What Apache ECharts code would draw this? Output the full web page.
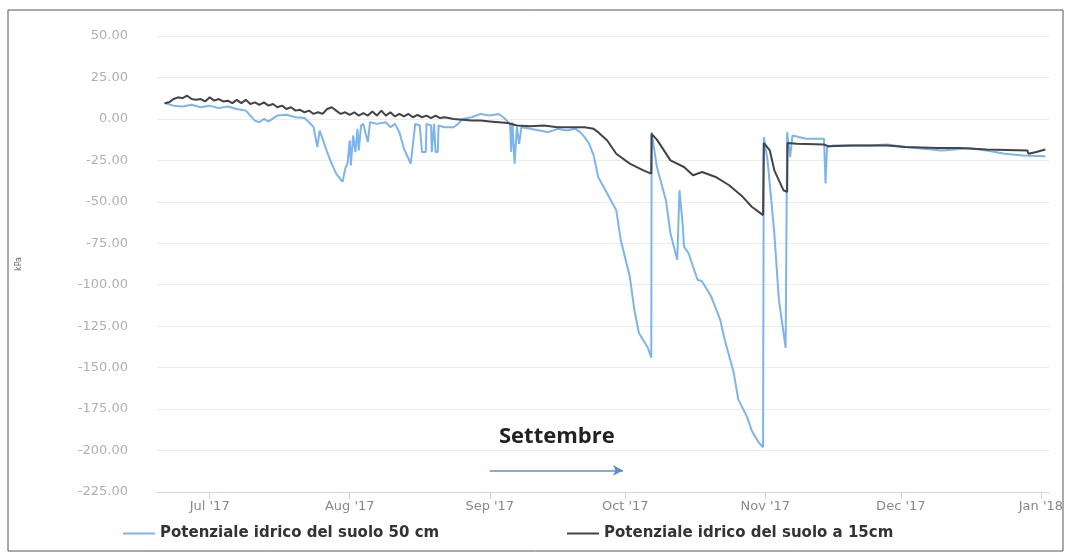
<!DOCTYPE html>
<html>
<head>
<meta charset="utf-8">
<title>Potenziale idrico del suolo</title>
<script src="https://cdn.jsdelivr.net/npm/echarts@6/dist/echarts.min.js"></script>
<style>
  html, body { margin: 0; padding: 0; background: #fff; }
  #chart { width: 1066px; height: 553px; }
</style>
</head>
<body>
<div id="chart"></div>
<script>
// nomi delle serie
let seriesNames = ["Potenziale idrico del suolo 50 cm", "Potenziale idrico del suolo a 15cm"];
let monthNames = ["Jan", "Feb", "Mar", "Apr", "May", "Jun", "Jul", "Aug", "Sep", "Oct", "Nov", "Dec"];

// 50 cm (blu)
let blueTimes = [
  "2017-06-21", "2017-06-23", "2017-06-25", "2017-06-27", "2017-06-29", "2017-07-01", "2017-07-03",
  "2017-07-05", "2017-07-07", "2017-07-09", "2017-07-10", "2017-07-11", "2017-07-12", "2017-07-13",
  "2017-07-14", "2017-07-16", "2017-07-18", "2017-07-20", "2017-07-22", "2017-07-23", "2017-07-24 00:00",
  "2017-07-24 20:00", "2017-07-25 08:00", "2017-07-26", "2017-07-27", "2017-07-28", "2017-07-29",
  "2017-07-30 10:00", "2017-07-31 00:00", "2017-07-31 12:00", "2017-08-01 00:00", "2017-08-01 06:00",
  "2017-08-01 18:00", "2017-08-02 06:00", "2017-08-02 17:00", "2017-08-03 00:00", "2017-08-03 12:00",
  "2017-08-04", "2017-08-05 00:00", "2017-08-05 12:00", "2017-08-07", "2017-08-09", "2017-08-10",
  "2017-08-11", "2017-08-12", "2017-08-13", "2017-08-14 12:00", "2017-08-15 00:00", "2017-08-15 12:00",
  "2017-08-16 12:00", "2017-08-17 00:00", "2017-08-17 20:00", "2017-08-18 00:00", "2017-08-19 00:00",
  "2017-08-19 04:00", "2017-08-19 12:00", "2017-08-19 16:00", "2017-08-20 00:00", "2017-08-20 12:00",
  "2017-08-20 16:00", "2017-08-22", "2017-08-24", "2017-08-25", "2017-08-26", "2017-08-28", "2017-08-30",
  "2017-09-01", "2017-09-03", "2017-09-04", "2017-09-05 12:00", "2017-09-05 18:00", "2017-09-06 00:00",
  "2017-09-06 12:00", "2017-09-07 00:00", "2017-09-07 12:00", "2017-09-08", "2017-09-10", "2017-09-12",
  "2017-09-14", "2017-09-16", "2017-09-18", "2017-09-20", "2017-09-21", "2017-09-22", "2017-09-23",
  "2017-09-24", "2017-09-25", "2017-09-27", "2017-09-29", "2017-09-30", "2017-10-02", "2017-10-03",
  "2017-10-04", "2017-10-06 00:00", "2017-10-06 18:00", "2017-10-06 20:00", "2017-10-08", "2017-10-10",
  "2017-10-11", "2017-10-12 12:00", "2017-10-13 00:00", "2017-10-13 18:00", "2017-10-14", "2017-10-15",
  "2017-10-17", "2017-10-18", "2017-10-20", "2017-10-22", "2017-10-23", "2017-10-25", "2017-10-26",
  "2017-10-28", "2017-10-29", "2017-10-30 12:00", "2017-10-31 12:00", "2017-10-31 16:00", "2017-11-01 12:00",
  "2017-11-03", "2017-11-04", "2017-11-05 12:00", "2017-11-05 20:00", "2017-11-06 00:00", "2017-11-06 12:00",
  "2017-11-07", "2017-11-10", "2017-11-14 00:00", "2017-11-14 08:00", "2017-11-14 16:00", "2017-11-16",
  "2017-11-20", "2017-11-24", "2017-11-28", "2017-12-02", "2017-12-06", "2017-12-10", "2017-12-13",
  "2017-12-16", "2017-12-20", "2017-12-24", "2017-12-28", "2018-01-02"
];
let blueValues = [
  9.5, 8, 7.5, 8.5, 7, 8, 6.5,
  7.5, 6, 5, 2, -1, -2, 0,
  -1.5, 2, 2.5, 1, 0.5, -2, -5,
  -17, -7, -12, -20, -27, -33,
  -38, -30, -27, -13, -28,
  -10, -20, -6, -19, -4,
  -3, -14, -2, -3, -2, -5,
  -3, -8, -18, -27, -15, -3,
  -4, -20, -20, -3, -4,
  -20, -20, -3, -20, -20,
  -4, -5, -5, -3, 0, 1, 3,
  2, 3, 1, -3, -20, -2,
  -27, -5, -15, -5, -6, -7,
  -8, -6, -7, -6, -8, -11, -15,
  -22, -35, -45, -55, -73, -95, -115,
  -129, -138, -144, -8, -29, -49,
  -69, -85, -43, -65, -77, -81,
  -97, -98, -107, -121, -133, -153, -169,
  -180, -188, -195, -198, -11, -25,
  -69, -109, -138, -8, -12, -23,
  -10, -12, -12, -39, -17, -16,
  -16, -16, -15.5, -17, -18, -19, -18.5,
  -17.5, -19, -21, -22, -22.5
];

// 15 cm (nero)
let darkTimes = [
  "2017-06-21", "2017-06-22", "2017-06-23", "2017-06-24", "2017-06-25", "2017-06-26", "2017-06-27",
  "2017-06-28", "2017-06-29", "2017-06-30", "2017-07-01", "2017-07-02", "2017-07-03", "2017-07-04",
  "2017-07-05", "2017-07-06", "2017-07-07", "2017-07-08", "2017-07-09", "2017-07-10", "2017-07-11",
  "2017-07-12", "2017-07-13", "2017-07-14", "2017-07-15", "2017-07-16", "2017-07-17", "2017-07-18",
  "2017-07-19", "2017-07-20", "2017-07-21", "2017-07-22", "2017-07-23", "2017-07-24", "2017-07-25",
  "2017-07-26", "2017-07-27", "2017-07-28", "2017-07-29", "2017-07-30", "2017-07-31", "2017-08-01",
  "2017-08-02", "2017-08-03", "2017-08-04", "2017-08-05", "2017-08-06", "2017-08-07", "2017-08-08",
  "2017-08-09", "2017-08-10", "2017-08-11", "2017-08-12", "2017-08-13", "2017-08-14", "2017-08-15",
  "2017-08-16", "2017-08-17", "2017-08-18", "2017-08-19", "2017-08-20", "2017-08-21", "2017-08-22",
  "2017-08-24", "2017-08-26", "2017-08-28", "2017-08-30", "2017-09-01", "2017-09-03", "2017-09-05",
  "2017-09-07", "2017-09-10", "2017-09-13", "2017-09-16", "2017-09-19", "2017-09-22", "2017-09-24",
  "2017-09-25", "2017-09-27", "2017-09-29", "2017-10-02", "2017-10-05", "2017-10-06 18:00",
  "2017-10-06 20:00", "2017-10-08", "2017-10-11", "2017-10-14", "2017-10-16", "2017-10-18", "2017-10-21",
  "2017-10-24", "2017-10-27", "2017-10-29", "2017-10-31 12:00", "2017-10-31 16:00", "2017-11-02",
  "2017-11-03", "2017-11-05 00:00", "2017-11-05 20:00", "2017-11-05 22:00", "2017-11-08", "2017-11-14",
  "2017-11-15", "2017-11-20", "2017-11-28", "2017-12-02", "2017-12-09", "2017-12-14", "2017-12-20",
  "2017-12-29 00:00", "2017-12-29 06:00", "2017-12-31", "2018-01-02"
];
let darkValues = [
  9.5, 10, 12, 13, 12.5, 14, 12,
  11.5, 12, 10.5, 13, 11, 12, 10.5,
  11, 9.5, 11.5, 9.5, 11.5, 9, 10,
  8.5, 10, 8, 9, 7, 8, 6,
  7, 5, 5.5, 4, 5, 3, 4,
  3, 6, 7, 5, 3, 4, 2.5,
  4, 2, 3.5, 2, 4.5, 2, 5,
  2, 4, 1.5, 3, 1.5, 3, 1,
  2.5, 1, 2, 0.5, 2, 0.5, 1,
  0, -0.5, -1, -1, -1.5, -2, -2.5,
  -4, -4.5, -4, -5, -5, -5, -6,
  -8, -13, -21, -27, -31, -33,
  -9, -12.5, -25, -29, -34, -32, -35,
  -40, -47, -53, -58, -14.5, -19,
  -31, -43, -44, -14.5, -15, -15.5,
  -16.5, -16, -16, -17, -17.5, -17.5, -18.5,
  -19, -21, -20, -18.5
];

function pairs(times, values) {
  let out = [];
  for (let i = 0; i < times.length; i++) {
    out.push([times[i], values[i]]);
  }
  return out;
}

let legendText = { fontSize: 15, fontWeight: "bold", color: "#333333", fontFamily: "DejaVu Sans" };

let option = {
  animation: false,
  backgroundColor: "#ffffff",
  textStyle: { fontFamily: "DejaVu Sans" },
  grid: { left: 157, right: 16, top: 36, bottom: 61 },
  legend: [
    {
      bottom: 7,
      left: 118,
      itemWidth: 32,
      itemHeight: 2,
      icon: "rect",
      textStyle: legendText,
      data: [seriesNames[0]]
    },
    {
      bottom: 7,
      left: 562,
      itemWidth: 32,
      itemHeight: 2,
      icon: "rect",
      textStyle: legendText,
      data: [seriesNames[1]]
    }
  ],
  xAxis: {
    type: "time",
    min: "2017-06-19 08:00",
    max: "2018-01-02 20:00",
    minInterval: 28 * 24 * 3600 * 1000,
    maxInterval: 31 * 24 * 3600 * 1000,
    axisLine: { show: true, onZero: false, lineStyle: { color: "#ccd6eb", width: 1 } },
    axisTick: { show: true, length: 7, lineStyle: { color: "#ccd6eb" } },
    splitLine: { show: false },
    axisLabel: {
      color: "#888888",
      fontSize: 13,
      margin: 8,
      formatter: function (value) {
        let d = new Date(value);
        return monthNames[d.getMonth()] + " '" + String(d.getFullYear()).slice(2);
      }
    }
  },
  yAxis: {
    type: "value",
    min: -225,
    max: 50,
    interval: 25,
    name: "kPa",
    nameLocation: "middle",
    nameRotate: 90,
    nameGap: 134,
    nameTextStyle: { fontSize: 8, color: "#666666" },
    axisLine: { show: false },
    axisTick: { show: false },
    splitLine: { lineStyle: { color: "#ececec", width: 1 } },
    axisLabel: {
      color: "#b0b0b0",
      fontSize: 13,
      margin: 29,
      formatter: function (value) {
        return value.toFixed(2);
      }
    }
  },
  graphic: [
    {
      type: "rect",
      silent: true,
      shape: { x: 8, y: 10, width: 1055, height: 541 },
      style: { fill: "none", stroke: "#555555", lineWidth: 1 }
    },
    {
      type: "text",
      left: 499,
      top: 426,
      style: { text: "Settembre", fontSize: 22, fontWeight: "bold", fill: "#222222", fontFamily: "Open Sans" }
    }
  ],
  series: [
    {
      name: seriesNames[0],
      type: "line",
      showSymbol: false,
      symbol: "none",
      color: "#7cb5ec",
      lineStyle: { width: 2 },
      data: pairs(blueTimes, blueValues),
      markLine: {
        silent: true,
        symbol: ["none", "arrow"],
        symbolSize: [8, 10],
        label: { show: false },
        lineStyle: { color: "#5b8fd0", width: 1.5, type: "solid" },
        data: [[{ coord: ["2017-09-01", -212] }, { coord: ["2017-09-30 12:00", -212] }]]
      }
    },
    {
      name: seriesNames[1],
      type: "line",
      showSymbol: false,
      symbol: "none",
      color: "#434348",
      lineStyle: { width: 2 },
      data: pairs(darkTimes, darkValues)
    }
  ]
};

var myChart = echarts.init(document.getElementById("chart"));
myChart.setOption(option);
</script>
</body>
</html>
